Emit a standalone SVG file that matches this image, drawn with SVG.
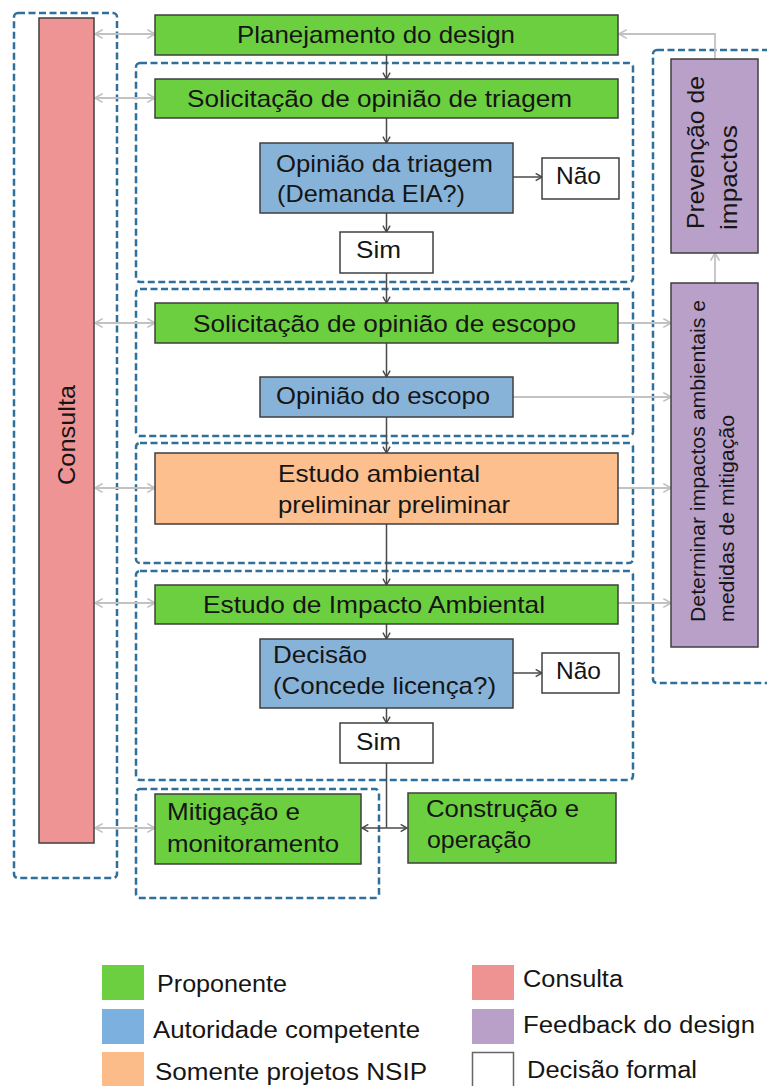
<svg xmlns="http://www.w3.org/2000/svg" width="767" height="1086" viewBox="0 0 767 1086">
<style>
text{font-family:"Liberation Sans",Arial,sans-serif;fill:#151515}
.t{font-size:24px}
.c{text-anchor:middle}
.node{stroke:#3f3f3f;stroke-width:1.5}
.g{fill:#6ccf3f}
.b{fill:#87b3d9}
.o{fill:#fdbf8d}
.p{fill:#ee9494}
.v{fill:#b9a0c9}
.w{fill:#ffffff}
.dash{fill:none;stroke:#2f6f9c;stroke-width:2.5;stroke-dasharray:7 3.5}
.dk{fill:none;stroke:#4a4a4a;stroke-width:1.5}
.gr{fill:none;stroke:#c2c2c2;stroke-width:1.8}
.vt{font-size:24px;dominant-baseline:central}
</style>
<defs>
<marker id="ad" viewBox="0 0 10 10" refX="9" refY="5" markerWidth="9" markerHeight="9" orient="auto-start-reverse" markerUnits="userSpaceOnUse">
<path d="M2,1 L9,5 L2,9" fill="none" stroke="#4a4a4a" stroke-width="1.6"/>
</marker>
<marker id="ag" viewBox="0 0 10 10" refX="9" refY="5" markerWidth="11" markerHeight="11" orient="auto-start-reverse" markerUnits="userSpaceOnUse">
<path d="M2,1 L9,5 L2,9" fill="none" stroke="#c2c2c2" stroke-width="1.5"/>
</marker>
</defs>
<rect width="767" height="1086" fill="#ffffff"/>

<g id="groups">
<rect class="dash" x="14" y="13" width="103" height="865" rx="4"/>
<rect class="dash" x="136" y="63" width="497" height="219" rx="4"/>
<rect class="dash" x="136" y="289" width="497" height="147" rx="4"/>
<rect class="dash" x="136" y="443" width="497" height="120" rx="4"/>
<rect class="dash" x="136" y="571" width="497" height="209" rx="4"/>
<rect class="dash" x="136" y="789" width="243" height="109" rx="4"/>
<rect class="dash" x="653" y="50" width="130" height="633" rx="4"/>
</g>

<g id="connectors">
<path class="dk" d="M386.5,55 V79" marker-end="url(#ad)"/>
<path class="dk" d="M386.5,118 V143" marker-end="url(#ad)"/>
<path class="dk" d="M386.5,213 V232" marker-end="url(#ad)"/>
<path class="dk" d="M386.5,273 V303" marker-end="url(#ad)"/>
<path class="dk" d="M386.5,343 V377" marker-end="url(#ad)"/>
<path class="dk" d="M386.5,417 V453" marker-end="url(#ad)"/>
<path class="dk" d="M386.5,524 V585" marker-end="url(#ad)"/>
<path class="dk" d="M386.5,624 V639" marker-end="url(#ad)"/>
<path class="dk" d="M386.5,708 V723" marker-end="url(#ad)"/>
<path class="dk" d="M386.5,763 V828"/>
<path class="dk" d="M386.5,828 H362" marker-end="url(#ad)"/>
<path class="dk" d="M386.5,828 H407" marker-end="url(#ad)"/>
<path class="dk" d="M513,177 H542" marker-end="url(#ad)"/>
<path class="dk" d="M513,673 H542" marker-end="url(#ad)"/>

<path class="gr" d="M95,34 H155" marker-start="url(#ag)" marker-end="url(#ag)"/>
<path class="gr" d="M95,98 H155" marker-start="url(#ag)" marker-end="url(#ag)"/>
<path class="gr" d="M95,323 H155" marker-start="url(#ag)" marker-end="url(#ag)"/>
<path class="gr" d="M95,488 H155" marker-start="url(#ag)" marker-end="url(#ag)"/>
<path class="gr" d="M95,603 H155" marker-start="url(#ag)" marker-end="url(#ag)"/>
<path class="gr" d="M95,828 H155" marker-start="url(#ag)" marker-end="url(#ag)"/>

<path class="gr" d="M618,323 H671" marker-end="url(#ag)"/>
<path class="gr" d="M513,397 H671" marker-end="url(#ag)"/>
<path class="gr" d="M618,488 H671" marker-end="url(#ag)"/>
<path class="gr" d="M618,603 H671" marker-end="url(#ag)"/>
<path class="gr" d="M715,283 V253" marker-end="url(#ag)"/>
<path class="gr" d="M715,59 V34 H619" marker-end="url(#ag)"/>
</g>

<g id="consulta">
<rect class="node p" x="39" y="18" width="55" height="825"/>
<text class="vt c" transform="translate(66,435) rotate(-90)" textLength="100" lengthAdjust="spacingAndGlyphs">Consulta</text>
</g>

<g id="planejamento">
<rect class="node g" x="155" y="15" width="463" height="40"/>
<text class="t" x="237" y="43" textLength="278" lengthAdjust="spacingAndGlyphs">Planejamento do design</text>
</g>

<g id="solicitacao-triagem">
<rect class="node g" x="155" y="79" width="463" height="39"/>
<text class="t" x="187" y="107" textLength="385" lengthAdjust="spacingAndGlyphs">Solicitação de opinião de triagem</text>
</g>

<g id="opiniao-triagem">
<rect class="node b" x="260" y="143" width="253" height="70"/>
<text class="t" x="276" y="172" textLength="217" lengthAdjust="spacingAndGlyphs">Opinião da triagem</text>
<text class="t" x="277" y="202" textLength="188" lengthAdjust="spacingAndGlyphs">(Demanda EIA?)</text>
</g>

<g id="nao1">
<rect class="node w" x="542" y="158" width="77" height="41"/>
<text class="t" x="556" y="184" textLength="45" lengthAdjust="spacingAndGlyphs">Não</text>
</g>

<g id="sim1">
<rect class="node w" x="340" y="232" width="93" height="41"/>
<text class="t" x="356" y="258" textLength="45" lengthAdjust="spacingAndGlyphs">Sim</text>
</g>

<g id="solicitacao-escopo">
<rect class="node g" x="155" y="303" width="463" height="40"/>
<text class="t" x="193" y="332" textLength="383" lengthAdjust="spacingAndGlyphs">Solicitação de opinião de escopo</text>
</g>

<g id="opiniao-escopo">
<rect class="node b" x="260" y="377" width="253" height="40"/>
<text class="t" x="276" y="404" textLength="214" lengthAdjust="spacingAndGlyphs">Opinião do escopo</text>
</g>

<g id="estudo-preliminar">
<rect class="node o" x="155" y="453" width="463" height="71"/>
<text class="t" x="278" y="482" textLength="202" lengthAdjust="spacingAndGlyphs">Estudo ambiental</text>
<text class="t" x="278" y="513" textLength="232" lengthAdjust="spacingAndGlyphs">preliminar preliminar</text>
</g>

<g id="eia">
<rect class="node g" x="155" y="585" width="463" height="39"/>
<text class="t" x="203" y="613" textLength="342" lengthAdjust="spacingAndGlyphs">Estudo de Impacto Ambiental</text>
</g>

<g id="decisao">
<rect class="node b" x="260" y="639" width="253" height="69"/>
<text class="t" x="273" y="663" textLength="94" lengthAdjust="spacingAndGlyphs">Decisão</text>
<text class="t" x="273" y="694" textLength="223" lengthAdjust="spacingAndGlyphs">(Concede licença?)</text>
</g>

<g id="nao2">
<rect class="node w" x="542" y="653" width="77" height="40"/>
<text class="t" x="556" y="679" textLength="45" lengthAdjust="spacingAndGlyphs">Não</text>
</g>

<g id="sim2">
<rect class="node w" x="340" y="723" width="93" height="40"/>
<text class="t" x="356" y="750" textLength="45" lengthAdjust="spacingAndGlyphs">Sim</text>
</g>

<g id="mitigacao">
<rect class="node g" x="155" y="794" width="206" height="70"/>
<text class="t" x="167" y="820" textLength="133" lengthAdjust="spacingAndGlyphs">Mitigação e</text>
<text class="t" x="167" y="852" textLength="172" lengthAdjust="spacingAndGlyphs">monitoramento</text>
</g>

<g id="construcao">
<rect class="node g" x="408" y="793" width="208" height="70"/>
<text class="t" x="426" y="817" textLength="153" lengthAdjust="spacingAndGlyphs">Construção e</text>
<text class="t" x="427" y="848" textLength="104" lengthAdjust="spacingAndGlyphs">operação</text>
</g>

<g id="prevencao">
<rect class="node v" x="671" y="59" width="87" height="194"/>
<text class="vt" transform="translate(695,229) rotate(-90)" textLength="153" lengthAdjust="spacingAndGlyphs">Prevenção de</text>
<text class="vt" transform="translate(728,230) rotate(-90)" textLength="105" lengthAdjust="spacingAndGlyphs">impactos</text>
</g>

<g id="determinar">
<rect class="node v" x="671" y="283" width="87" height="364"/>
<text class="vt" style="font-size:20px" transform="translate(698,622) rotate(-90)" textLength="322" lengthAdjust="spacingAndGlyphs">Determinar impactos ambientais e</text>
<text class="vt" style="font-size:20px" transform="translate(727,622) rotate(-90)" textLength="207" lengthAdjust="spacingAndGlyphs">medidas de mitigação</text>
</g>

<g id="legend">
<rect x="102" y="965" width="42" height="35" fill="#6ccf3f"/>
<rect x="102" y="1009" width="42" height="35" fill="#7cb1df"/>
<rect x="102" y="1052" width="42" height="36" fill="#fcbc8a"/>
<rect x="472" y="965" width="42" height="35" fill="#ee9292"/>
<rect x="472" y="1009" width="42" height="35" fill="#b8a0c8"/>
<rect x="472.5" y="1052.5" width="41" height="36" fill="#ffffff" stroke="#666" stroke-width="1.5"/>
<text x="157" y="992" style="font-size:23px" textLength="130" lengthAdjust="spacingAndGlyphs">Proponente</text>
<text x="153" y="1038" style="font-size:23px" textLength="267" lengthAdjust="spacingAndGlyphs">Autoridade competente</text>
<text x="155" y="1080" style="font-size:23px" textLength="272" lengthAdjust="spacingAndGlyphs">Somente projetos NSIP</text>
<text x="523" y="987" style="font-size:23px" textLength="100" lengthAdjust="spacingAndGlyphs">Consulta</text>
<text x="523" y="1033" style="font-size:23px" textLength="232" lengthAdjust="spacingAndGlyphs">Feedback do design</text>
<text x="527" y="1078" style="font-size:23px" textLength="170" lengthAdjust="spacingAndGlyphs">Decisão formal</text>
</g>
</svg>
